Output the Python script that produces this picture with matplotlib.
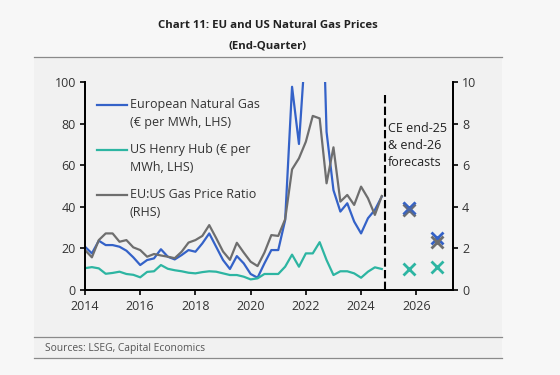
import numpy as np
import matplotlib.pyplot as plt
from matplotlib.lines import Line2D
from matplotlib.patches import Rectangle

plt.rcParams['font.family'] = ['Open Sans', 'DejaVu Sans']

# End-quarter data, Q1 2014 .. Q4 2024 (plotted at year + (q-1)/4)
start_year = 2014
eu_gas = [20.8, 17.6, 23.7, 21.6, 21.6, 20.8, 18.9, 15.7,
          12.0, 14.4, 15.2, 19.6, 16.0, 14.7, 16.8, 19.2,
          18.4, 22.4, 27.2, 20.8, 14.4, 10.1, 16.3, 12.8,
          7.7, 5.9, 12.8, 19.2, 19.2, 33.6, 97.7, 70.2,
          120.0, 145.0, 190.0, 76.0, 48.0, 37.7, 41.7, 32.9,
          27.2, 34.5, 38.5, 44.9]
us_henry_hub = [10.5, 11.0, 10.4, 7.8, 8.2, 8.8, 7.7, 7.3,
                6.1, 8.7, 9.0, 12.0, 10.2, 9.5, 9.0, 8.3,
                8.0, 8.6, 9.0, 8.8, 8.0, 7.2, 7.2, 6.4,
                5.1, 5.6, 7.7, 7.7, 7.7, 11.2, 17.0, 11.2,
                17.6, 17.6, 23.0, 14.4, 7.2, 9.0, 9.0, 8.0,
                5.9, 8.8, 10.9, 10.1]
price_ratio = [1.92, 1.57, 2.4, 2.72, 2.72, 2.32, 2.4, 2.05,
               1.92, 1.6, 1.73, 1.66, 1.6, 1.53, 1.84, 2.28,
               2.4, 2.6, 3.12, 2.5, 1.85, 1.45, 2.27, 1.8,
               1.36, 1.15, 1.8, 2.64, 2.6, 3.4, 5.8, 6.33,
               7.13, 8.37, 8.25, 5.13, 6.86, 4.25, 4.57, 4.09,
               4.97, 4.41, 3.61, 4.52]

# CE forecasts (end-25, end-26)
fc_x = [2025.75, 2026.75]
fc_eu = [39.3, 24.8]
fc_us = [10.1, 11.2]
fc_ratio = [3.85, 2.3]

forecast_line = 2024.85

blue = '#3462c8'
teal = '#2db5a2'
grey = '#6e6e6e'

quarters = start_year + np.arange(len(eu_gas)) / 4

W, H = 560, 375
fig = plt.figure(figsize=(W / 100, H / 100), dpi=100, facecolor='#f7f7f7')

# panel background and separator lines
def px(x, y):
    return x / W, 1 - y / H

x0, y0 = px(34, 358)
x1, y1 = px(502, 57)
fig.add_artist(Rectangle((x0, y0), x1 - x0, y1 - y0, transform=fig.transFigure,
                         facecolor='#f1f1f1', edgecolor='none', zorder=0))
for yy in (57, 337, 358):
    a, b = px(34, yy)
    c, _ = px(502, yy)
    fig.add_artist(Line2D([a, c], [b, b], transform=fig.transFigure,
                          color='#8a8a8a', lw=0.9))

fig.text(268 / W, 1 - 26 / H, 'Chart 11: EU and US Natural Gas Prices',
         ha='center', va='center', fontsize=8.2, fontweight='bold', color='#222222')
fig.text(268 / W, 1 - 45.5 / H, '(End-Quarter)',
         ha='center', va='center', fontsize=8.2, fontweight='bold', color='#222222')
fig.text(45 / W, 1 - 348 / H, 'Sources: LSEG, Capital Economics',
         ha='left', va='center', fontsize=7.4, color='#555555')

ax = fig.add_axes([85 / W, 1 - 290 / H, (453 - 85) / W, (290 - 82) / H])
ax.set_facecolor('none')
ax2 = ax.twinx()

ax.plot(quarters, eu_gas, color=blue, lw=1.6)
ax.plot(quarters, us_henry_hub, color=teal, lw=1.6)
ax2.plot(quarters, price_ratio, color=grey, lw=1.6)

ax.plot(fc_x, fc_eu, ls='none', marker='x', ms=8, mew=2, color=blue)
ax2.plot(fc_x, fc_ratio, ls='none', marker='x', ms=8, mew=2, color=grey)
ax.plot(fc_x, fc_us, ls='none', marker='x', ms=8, mew=2, color=teal)
ax2.plot([fc_x[0]], [fc_eu[0] / 10], ls='none', marker='x', ms=8, mew=2,
         color=blue, alpha=0.6)

ax.axvline(forecast_line, ymin=0, ymax=0.95, color='black', lw=1.5, dashes=(4, 1.6))

ax.set_xlim(2014, 2027.33)
ax.set_ylim(0, 100)
ax2.set_ylim(0, 10)
ax.set_xticks(range(2014, 2027, 2))
ax.set_yticks(range(0, 101, 20))
ax2.set_yticks(range(0, 11, 2))

for a in (ax, ax2):
    a.spines['top'].set_visible(False)
    for s in ('left', 'right', 'bottom'):
        a.spines[s].set_linewidth(1.3)
        a.spines[s].set_color('black')
    a.tick_params(direction='out', length=3.5, width=1.2, colors='black',
                  labelcolor='#333333', labelsize=9, pad=3)
ax.tick_params(axis='x', pad=4)

ax.text(0.823, 0.697, 'CE end-25\n& end-26\nforecasts', transform=ax.transAxes,
        ha='left', va='center', fontsize=9, linespacing=1.4, color='#222222')

# legend
labels = ['European Natural Gas\n(€ per MWh, LHS)',
          'US Henry Hub (€ per\nMWh, LHS)',
          'EU:US Gas Price Ratio\n(RHS)']
colors = [blue, teal, grey]
for k, (lab, col) in enumerate(zip(labels, colors)):
    yy = (290 - (105 + 45 * k)) / 208
    ax.add_line(Line2D([0.033, 0.114], [yy, yy], transform=ax.transAxes,
                       color=col, lw=1.6, clip_on=False))
    ax.text(0.122, yy + 0.003, lab.split('\n')[0], transform=ax.transAxes,
            ha='left', va='center', fontsize=9, color='#333333')
    ax.text(0.122, yy - 0.082, lab.split('\n')[1], transform=ax.transAxes,
            ha='left', va='center', fontsize=9, color='#333333')

fig.savefig('out.png', dpi=100, facecolor=fig.get_facecolor())
